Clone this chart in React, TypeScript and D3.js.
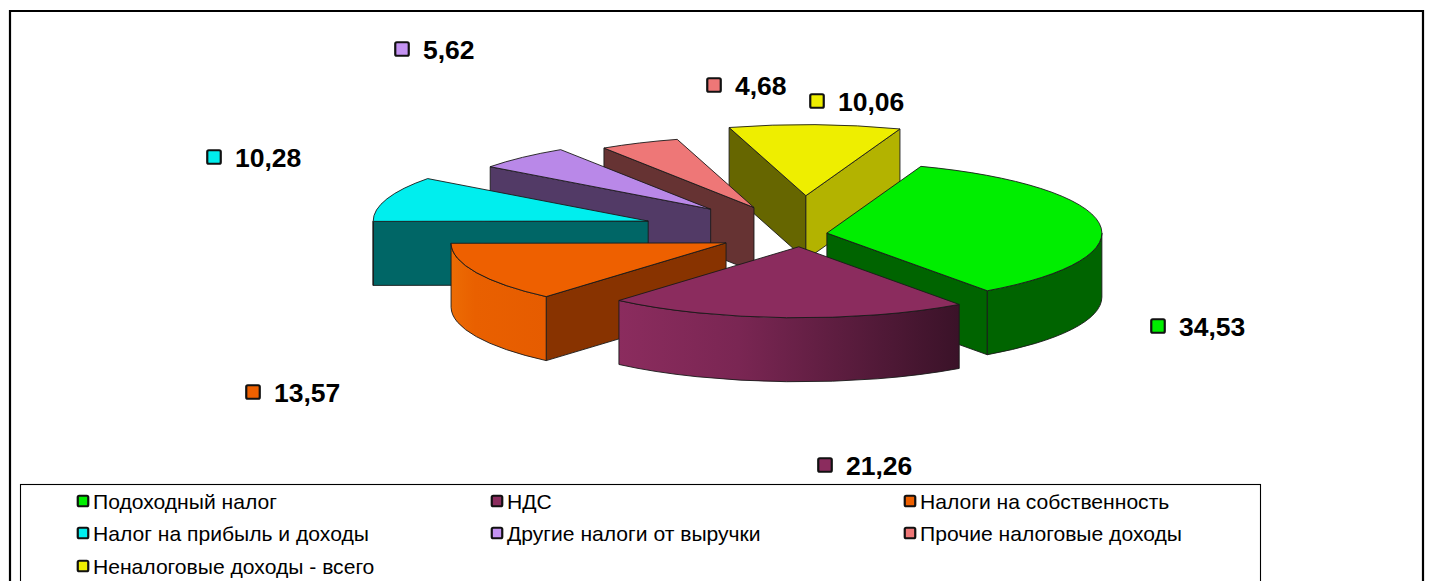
import * as d3 from 'd3';

const WIDTH = 1435;
const HEIGHT = 581;

const categories = [
  'Подоходный налог',
  'НДС',
  'Налоги на собственность',
  'Налог на прибыль и доходы',
  'Другие налоги от выручки',
  'Прочие налоговые доходы',
  'Неналоговые доходы - всего',
];
const values = [34.53, 21.26, 13.57, 10.28, 5.62, 4.68, 10.06];
// share of the radius each slice is pulled out
const explosion = [0.095, 0.18, 0.3, 0.585, 0.48, 0.41, 0.54];

const topColors = ['#00ee00', '#8b2c5e', '#ee6000', '#00eeee', '#b988e8', '#ee7777', '#eeee00'];
const wallColors = ['#006400', '#6a2148', '#883300', '#006666', '#523a66', '#663333', '#666600'];
const legendColors = ['#00ee00', '#8b2c5e', '#ee6000', '#00eeee', '#c493f2', '#ee7777', '#eeee00'];

// painter's order, back to front
const drawOrder = [6, 5, 4, 3, 2, 0, 1];

// free-placed data labels, as in the source chart
const labelPos: [number, number][] = [
  [1158, 326],
  [825, 465],
  [253, 392],
  [214, 157],
  [402, 49],
  [714, 85],
  [817, 101],
];

const CX = 801;
const CY = 234;
const RX = 275;
const RY = 71;
const DEPTH = 64;
const START = (20 * Math.PI) / 180;

const pie = d3
  .pie<number>()
  .sort(null)
  .startAngle(START)
  .endAngle(START + 2 * Math.PI);
const arcs = pie(values);
const topArc = d3.arc();

const fmt = (v: number) => v.toFixed(2).replace('.', ',');

function Slice({ i }: { i: number }) {
  const a = arcs[i].startAngle;
  const b = arcs[i].endAngle;
  const mid = (a + b) / 2;
  const ax = CX + explosion[i] * RX * Math.sin(mid);
  const ay = CY - explosion[i] * RY * Math.cos(mid);
  const pt = (t: number, dz = 0): [number, number] => [
    ax + RX * Math.sin(t),
    ay - RY * Math.cos(t) + dz,
  ];
  const face = (t: number) => {
    const [x, y] = pt(t);
    return `M${ax},${ay}L${x},${y}L${x},${y + DEPTH}L${ax},${ay + DEPTH}Z`;
  };
  const stroke = { stroke: '#1a1a1a', strokeWidth: 0.9, strokeLinejoin: 'round' as const };

  // outer wall only shows on the front half of the ellipse
  const w0 = Math.max(a, Math.PI / 2);
  const w1 = Math.min(b, (3 * Math.PI) / 2);
  let wall = '';
  if (w1 > w0) {
    const [x0, y0] = pt(w0);
    const [x1, y1] = pt(w1);
    wall =
      `M${x0},${y0}A${RX},${RY} 0 0 1 ${x1},${y1}` +
      `L${x1},${y1 + DEPTH}A${RX},${RY} 0 0 0 ${x0},${y0 + DEPTH}Z`;
  }
  const wallFill = i === 1 ? 'url(#wallPurple)' : i === 2 ? 'url(#wallOrange)' : wallColors[i];

  return (
    <g>
      {Math.sin(a) < 0 && <path d={face(a)} fill={wallColors[i]} {...stroke} />}
      {Math.sin(b) > 0 && (
        <path d={face(b)} fill={i === 6 ? '#b3b300' : wallColors[i]} {...stroke} />
      )}
      {wall && <path d={wall} fill={wallFill} {...stroke} />}
      <path
        d={
          topArc({ innerRadius: 0, outerRadius: RX, startAngle: a, endAngle: b } as any) as string
        }
        transform={`translate(${ax},${ay}) scale(1,${RY / RX})`}
        fill={topColors[i]}
        vectorEffect="non-scaling-stroke"
        {...stroke}
      />
    </g>
  );
}

function Marker({ x, y, size, color }: { x: number; y: number; size: number; color: string }) {
  return (
    <rect
      x={x - size / 2}
      y={y - size / 2}
      width={size}
      height={size}
      rx={1.5}
      fill={color}
      stroke="#111"
      strokeWidth={2.2}
    />
  );
}

export default function App() {
  const legendX = d3.scaleOrdinal<number, number>().domain([0, 1, 2]).range([83, 497, 910]);
  const legendY = d3.scaleOrdinal<number, number>().domain([0, 1, 2]).range([501, 533, 566]);

  return (
    <svg
      width={WIDTH}
      height={HEIGHT}
      style={{ position: 'absolute', left: 0, top: 0, fontFamily: '"Liberation Sans", Arial, sans-serif' }}
    >
      <defs>
        <linearGradient id="wallPurple" x1="0" x2="1" y1="0" y2="0">
          <stop offset="0" stopColor="#8b2c5e" />
          <stop offset="0.35" stopColor="#7a2653" />
          <stop offset="1" stopColor="#3a1228" />
        </linearGradient>
        <linearGradient id="wallOrange" x1="0" x2="1" y1="0" y2="0">
          <stop offset="0" stopColor="#ec6c04" />
          <stop offset="0.25" stopColor="#e96000" />
          <stop offset="1" stopColor="#e65c00" />
        </linearGradient>
      </defs>

      <rect x={0} y={0} width={WIDTH} height={HEIGHT} fill="#fff" />
      <path d={`M10,${HEIGHT + 5}V11H1423V${HEIGHT + 5}`} fill="none" stroke="#000" strokeWidth={2.2} />

      {drawOrder.map((i) => (
        <Slice key={i} i={i} />
      ))}

      {values.map((v, i) => (
        <g key={i}>
          <Marker x={labelPos[i][0]} y={labelPos[i][1]} size={13.5} color={legendColors[i]} />
          <text
            x={labelPos[i][0] + 21}
            y={labelPos[i][1] + 10}
            fontSize={26.5}
            fontWeight={700}
            fill="#000"
          >
            {fmt(v)}
          </text>
        </g>
      ))}

      <rect x={20.5} y={484.5} width={1240} height={110} fill="#fff" stroke="#000" strokeWidth={1.1} />
      {categories.map((c, i) => {
        const col = i % 3;
        const row = Math.floor(i / 3);
        return (
          <g key={c}>
            <Marker x={legendX(col)} y={legendY(row)} size={10.5} color={legendColors[i]} />
            <text x={legendX(col) + 10} y={legendY(row) + 7.5} fontSize={21.1} fill="#000">
              {c}
            </text>
          </g>
        );
      })}
    </svg>
  );
}
